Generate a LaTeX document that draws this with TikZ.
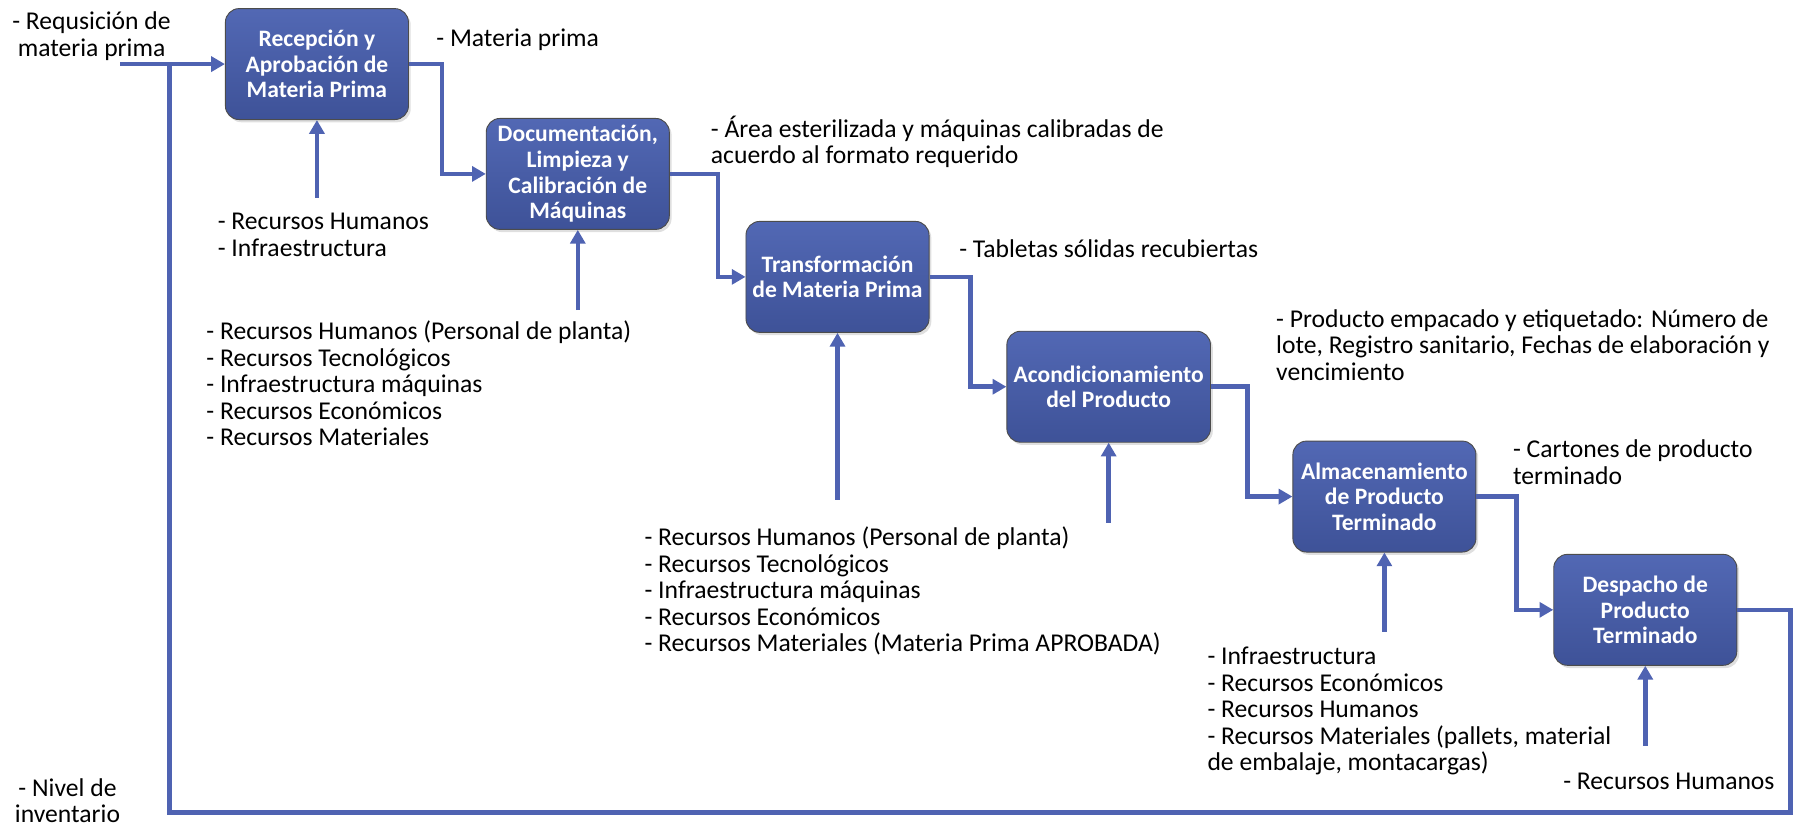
\documentclass[tikz,border=0pt]{standalone}
\usepackage{fontspec}
\setmainfont{Carlito}
\usepackage{tikz}
\usetikzlibrary{arrows.meta,positioning,shadows}

\definecolor{flowblue}{RGB}{79,99,178}
\definecolor{boxtop}{RGB}{82,104,180}
\definecolor{boxbot}{RGB}{62,82,152}

\tikzset{
  procbox/.style={draw=black!70, rounded corners=6pt, top color=boxtop, bottom color=boxbot,
    text=white, font=\bfseries\fontsize{10.3}{11.2}\selectfont, align=center,
    minimum width=80pt, minimum height=48.5pt, inner sep=2pt,
    drop shadow={opacity=0.25,shadow xshift=1pt,shadow yshift=-1.2pt}},
  flow/.style={flowblue, line width=2pt, -{Triangle[length=6pt,width=6.5pt]}},
  loopline/.style={flowblue, line width=2pt},
  note/.style={anchor=north west, inner sep=0pt, align=left, font=\fontsize{11.2}{11.6}\selectfont},
}

\begin{document}
\begin{tikzpicture}[x=0.5pt,y=-0.5pt]
		\useasboundingbox (0,0) rectangle (1568,724);
		% process boxes
		\node[procbox] (recep) at (277,56) {Recepción y\\Aprobación de\\Materia Prima};
		\node[procbox] (docu) at (505,152) {Documentación,\\Limpieza y\\Calibración de\\Máquinas};
		\node[procbox] (transf) at (732,242) {Transformación\\de Materia Prima};
		\node[procbox, minimum width=89pt] (acond) at (969,338) {Acondicionamiento\\del Producto};
		\node[procbox] (almac) at (1210,434) {Almacenamiento\\de Producto\\Terminado};
		\node[procbox] (desp) at (1438,533) {Despacho de\\Producto\\Terminado};

		% free ends
		\coordinate (req) at (105,56);
		\coordinate (join) at (148,56);
		\coordinate (turnR) at (1565,710);
		\coordinate (turnL) at (148,710);
		\coordinate (in1) at (277,173);
		\coordinate (in2) at (505,271);
		\coordinate (in3) at (732,437);
		\coordinate (in4) at (969,457);
		\coordinate (in5) at (1210,552);
		\coordinate (in6) at (1438,652);

		% main flow
		\draw[flow] (req) -- (recep.west);
		\draw[flow] (recep.east) -- ++(29,0) |- (docu.west);
		\draw[flow] (docu.east) -- ++(42,0) |- (transf.west);
		\draw[flow] (transf.east) -- ++(36,0) |- (acond.west);
		\draw[flow] (acond.east) -- ++(32,0) |- (almac.west);
		\draw[flow] (almac.east) -- ++(35,0) |- (desp.west);
		\draw[loopline] (desp.east) -| (turnR) -- (turnL) -- (join);

		% resource inputs
		\draw[flow] (in1) -- (recep.south);
		\draw[flow] (in2) -- (docu.south);
		\draw[flow] (in3) -- (transf.south);
		\draw[flow] (in4) -- (acond.south);
		\draw[flow] (in5) -- (almac.south);
		\draw[flow] (in6) -- (desp.south);

		% labels
		\node[note, anchor=north, align=center] (lreq) at (80,10) {- Requsición de\\materia prima};
		\node[note] (lmp) at (381,25) {- Materia prima};
		\node[note] (larea) at (621,101) {- Área esterilizada y máquinas calibradas de\\acuerdo al formato requerido};
		\node[note] (ltab) at (838,209) {- Tabletas sólidas recubiertas};
		\node[note] (lemp) at (1115,270) {- Producto empacado y etiquetado: Número de\\lote, Registro sanitario, Fechas de elaboración y\\vencimiento};
		\node[note] (lcart) at (1322,384) {- Cartones de producto\\terminado};
		\node[note] (r1) at (190,186) {- Recursos Humanos\\- Infraestructura};
		\node[note] (r2) at (180,280) {- Recursos Humanos (Personal de planta)\\- Recursos Tecnológicos\\- Infraestructura máquinas\\- Recursos Económicos\\- Recursos Materiales};
		\node[note] (r3) at (563,460) {- Recursos Humanos (Personal de planta)\\- Recursos Tecnológicos\\- Infraestructura máquinas\\- Recursos Económicos\\- Recursos Materiales (Materia Prima APROBADA)};
		\node[note] (r5) at (1055,565) {- Infraestructura\\- Recursos Económicos\\- Recursos Humanos\\- Recursos Materiales (pallets, material\\de embalaje, montacargas)};
		\node[note] (r6) at (1366,675) {- Recursos Humanos};
		\node[note, anchor=north, align=center] (linv) at (59,680) {- Nivel de\\inventario};
	\end{tikzpicture}
\end{document}
